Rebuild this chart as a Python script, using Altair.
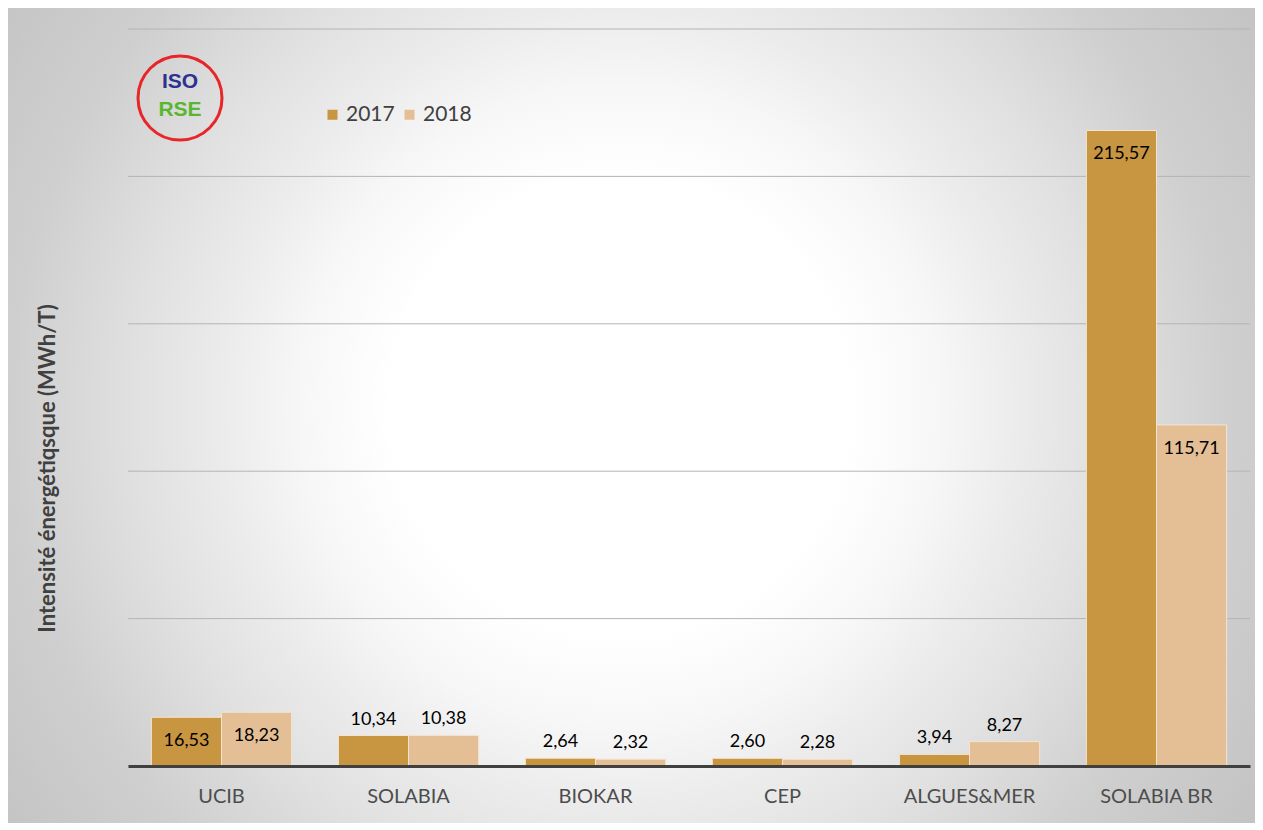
import altair as alt
import pandas as pd

categories = ["UCIB", "SOLABIA", "BIOKAR", "CEP", "ALGUES&MER", "SOLABIA BR"]
values_2017 = [16.53, 10.34, 2.64, 2.60, 3.94, 215.57]
values_2018 = [18.23, 10.38, 2.32, 2.28, 8.27, 115.71]
years = ["2017", "2018"]
grid_values = [0, 50, 100, 150, 200, 250]

rows = []
for c, a, b in zip(categories, values_2017, values_2018):
    for y, v in zip(years, [a, b]):
        rows.append({"cat": c, "year": y, "value": v,
                     "label": f"{v:.2f}".replace(".", ",")})
df = pd.DataFrame(rows)

W, H = 1122, 737
PAD = {"left": 120, "top": 21, "right": 5, "bottom": 57}
FONT = "Lato"

xenc = alt.X("cat:N", sort=categories, title=None,
             scale=alt.Scale(paddingInner=0.25, paddingOuter=0.125),
             axis=alt.Axis(labelFontSize=20, labelColor="#4d4d4d", labelFont=FONT,
                           domainColor="#404040", domainWidth=3, ticks=False,
                           labelPadding=20, labelAngle=0, zindex=1, grid=False))
yscale = alt.Scale(domain=[0, 250], nice=False)
yaxis = alt.Axis(title="Intensité énergétiqsque (MWh/T)", labels=False,
                 ticks=False, domain=False, grid=False,
                 titleFontSize=22, titleFont=FONT, titleFontWeight="bold",
                 titleColor="#404040", titleAngle=270,
                 titleX=-81, titleY=439, titleAlign="center",
                 titleBaseline="middle", zindex=1)
yenc = alt.Y("value:Q", scale=yscale, axis=yaxis)

# radial background, square box so the gradient is circular in pixels
CX, CY, R = 492, 377, 760
bg = alt.Chart(alt.Data(values=[{"a": 1}])).mark_rect(
    fill=alt.Gradient(gradient="radial", x1=0.5, y1=0.5, r1=0.0,
                      x2=0.5, y2=0.5, r2=0.5,
                      stops=[alt.GradientStop(color="#ffffff", offset=0),
                             alt.GradientStop(color="#ffffff", offset=0.30),
                             alt.GradientStop(color="#f7f7f7", offset=0.42),
                             alt.GradientStop(color="#ececec", offset=0.52),
                             alt.GradientStop(color="#e0e0e0", offset=0.645),
                             alt.GradientStop(color="#cfcfcf", offset=0.80),
                             alt.GradientStop(color="#c4c4c4", offset=0.98),
                             alt.GradientStop(color="#c3c3c3", offset=1)])
).encode(x=alt.value(CX - R), x2=alt.value(CX + R),
         y=alt.value(CY - R), y2=alt.value(CY + R))

grid = alt.Chart(pd.DataFrame({"value": grid_values})).mark_rule(
    color="#b4b4b4", strokeWidth=1
).encode(y=yenc)

bars = alt.Chart(df).mark_bar(stroke="#f4e4cf", strokeWidth=1).encode(
    x=xenc,
    xOffset=alt.XOffset("year:N", sort=years),
    y=yenc,
    color=alt.Color("year:N", sort=years,
                    scale=alt.Scale(domain=years, range=["#c89541", "#e4bf96"]),
                    legend=alt.Legend(title=None, orient="none", direction="horizontal",
                                      legendX=194, legendY=75, symbolType="square",
                                      symbolSize=100, symbolStrokeWidth=0,
                                      labelFontSize=21, labelFont=FONT,
                                      labelColor="#404040", columnPadding=4,
                                      labelOffset=3)),
)

txt_in = alt.Chart(df).transform_filter("datum.value > 15").mark_text(
    fontSize=18, font=FONT, color="#000000", dy=24, baseline="middle"
).encode(x=alt.X("cat:N", sort=categories), xOffset=alt.XOffset("year:N", sort=years),
         y=yenc, text="label:N")

txt_out = alt.Chart(df).transform_filter("datum.value <= 15").mark_text(
    fontSize=18, font=FONT, color="#000000", dy=-16, baseline="middle"
).encode(x=alt.X("cat:N", sort=categories), xOffset=alt.XOffset("year:N", sort=years),
         y=yenc, text="label:N")

logo_data = alt.Data(values=[{"a": 1}])
logo_circle = alt.Chart(logo_data).mark_point(
    shape="circle", size=7056, filled=False, stroke="#e8262a", strokeWidth=3, opacity=1
).encode(x=alt.value(52), y=alt.value(69))
logo_iso = alt.Chart(logo_data).mark_text(
    text="ISO", font="Liberation Sans", fontWeight="bold", fontSize=21,
    color="#2e3192", baseline="middle"
).encode(x=alt.value(52), y=alt.value(53))
logo_rse = alt.Chart(logo_data).mark_text(
    text="RSE", font="Liberation Sans", fontWeight="bold", fontSize=21,
    color="#5ab52f", baseline="middle"
).encode(x=alt.value(52), y=alt.value(81))

chart = alt.layer(bg, grid, bars, txt_in, txt_out, logo_circle, logo_iso, logo_rse).properties(
    width=W, height=H, autosize=alt.AutoSizeParams(type="none"), padding=PAD
).configure_view(stroke=None).configure(background="white")

chart.save("out.html", embed_options={"renderer": "svg", "actions": False})
